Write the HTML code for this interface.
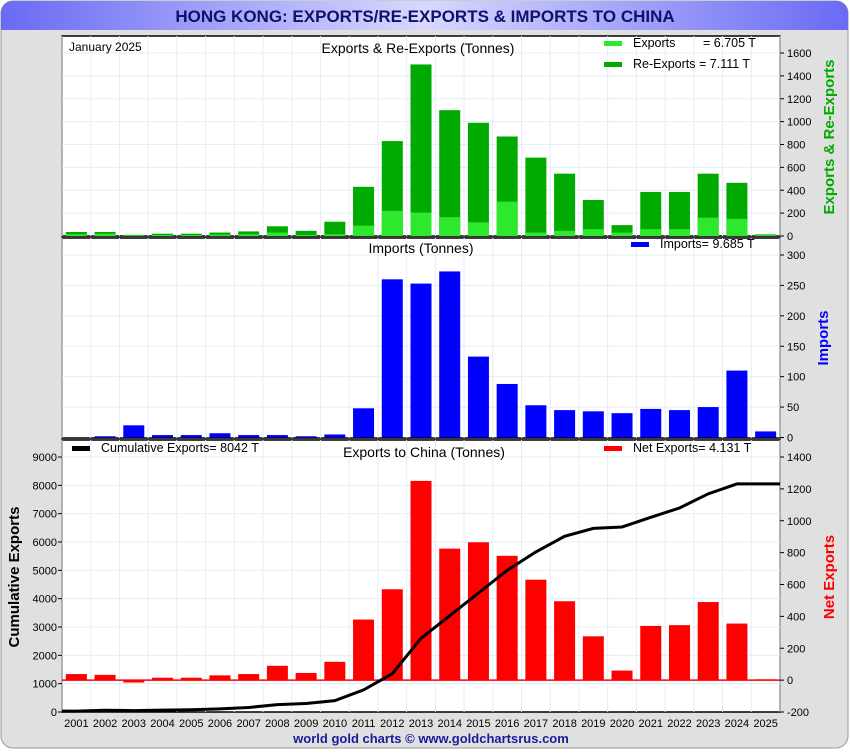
<!DOCTYPE html>
<html><head><meta charset="utf-8"><style>
body{margin:0;width:850px;height:750px;overflow:hidden;background:#fff;font-family:"Liberation Sans",sans-serif}
</style></head><body>
<svg id="c" width="850" height="750" xmlns="http://www.w3.org/2000/svg" font-family="Liberation Sans, sans-serif">
<defs><linearGradient id="hg" x1="0" x2="1"><stop offset="0" stop-color="#6a6af5"/><stop offset="0.5" stop-color="#d8d8ff"/><stop offset="1" stop-color="#6a6af5"/></linearGradient></defs>
<rect x="1" y="1" width="847" height="747" rx="12" fill="#e0e0e0" stroke="#999"/>
<path d="M1,30 V13 A12,12 0 0 1 13,1 H836 A12,12 0 0 1 848,13 V30 Z" fill="url(#hg)"/>
<text x="425" y="22" text-anchor="middle" font-size="17" font-weight="bold" fill="#10106a">HONG KONG: EXPORTS/RE-EXPORTS &amp; IMPORTS TO CHINA</text>
<g id="g"></g>
<text x="431" y="743" text-anchor="middle" font-size="13" font-weight="bold" fill="#1a1a9a">world gold charts © www.goldchartsrus.com</text>
</svg>
<script>
const years=['2001','2002','2003','2004','2005','2006','2007','2008','2009','2010','2011','2012','2013','2014','2015','2016','2017','2018','2019','2020','2021','2022','2023','2024','2025'];
const totalExports=[35,35,10,20,20,30,40,85,45,125,430,830,1500,1100,990,870,685,545,315,95,385,385,545,465,14];
const exportsOnly=[15,20,5,8,8,12,15,30,10,15,90,220,205,165,120,300,30,45,60,30,60,60,160,150,7];
const imports=[0,2,20,4,4,7,4,4,2,5,48,260,253,273,133,88,53,45,43,40,47,45,50,110,10];
const netExports=[38,33,-15,15,15,30,38,90,45,115,380,570,1250,825,865,780,630,495,275,60,340,345,490,355,5];
const cumulative=[30,60,50,65,80,110,160,260,300,400,780,1350,2600,3400,4200,5000,5650,6200,6480,6530,6870,7200,7700,8050,8050];
const topTicks=[0,200,400,600,800,1000,1200,1400,1600];
const midTicks=[0,50,100,150,200,250,300];
const leftTicks=[0,1000,2000,3000,4000,5000,6000,7000,8000,9000];
const rightTicks=[-200,0,200,400,600,800,1000,1200,1400];

const NS='http://www.w3.org/2000/svg';
const G=document.getElementById('g');
const L=62,R=780,slot=(R-L)/years.length,bw=21;
const xc=i=>L+slot*(i+0.5);
function mk(t,a,p){const e=document.createElementNS(NS,t);for(const k in a)e.setAttribute(k,a[k]);(p||G).appendChild(e);return e;}
const yTop=v=>236-v*(236-53)/1600;
const yMid=v=>437.5-v*(437.5-255)/300;
const yLeft=v=>712-v*(712-457)/9000;
const yRight=v=>712-(v+200)*(712-457)/1600;

const panels=[[36,236],[238,438],[440,712]];
panels.forEach((p,k)=>{
  const r=mk('rect',{x:L,y:p[0],width:R-L,height:p[1]-p[0],fill:'#fff',stroke:'#000','stroke-width':1.5});
  
  
  for(let i=0;i<=years.length;i++){mk('line',{x1:L+slot*i,x2:L+slot*i,y1:p[0],y2:p[1],stroke:'#e3eef7'});}
});
topTicks.forEach(v=>{const y=yTop(v);if(v>0)mk('line',{x1:L,x2:R,y1:y,y2:y,stroke:'#e3eef7'});mk('line',{x1:R,x2:R+4,y1:y,y2:y,stroke:'#000'});const t=mk('text',{x:R+7,y:y+4,'font-size':11});t.textContent=v;});
midTicks.forEach(v=>{const y=yMid(v);if(v>0)mk('line',{x1:L,x2:R,y1:y,y2:y,stroke:'#e3eef7'});mk('line',{x1:R,x2:R+4,y1:y,y2:y,stroke:'#000'});const t=mk('text',{x:R+7,y:y+4,'font-size':11});t.textContent=v;});
leftTicks.forEach(v=>{const y=yLeft(v);if(v>0)mk('line',{x1:L,x2:R,y1:y,y2:y,stroke:'#e3eef7'});mk('line',{x1:L-4,x2:L,y1:y,y2:y,stroke:'#000'});const t=mk('text',{x:L-5,y:y+4,'font-size':11,'text-anchor':'end'});t.textContent=v;});
rightTicks.forEach(v=>{const y=yRight(v);mk('line',{x1:R,x2:R+4,y1:y,y2:y,stroke:'#000'});const t=mk('text',{x:R+7,y:y+4,'font-size':11});t.textContent=v;});

years.forEach((yr,i)=>{
  const x=xc(i)-bw/2;
  let b=mk('rect',{x:x,y:yTop(totalExports[i]),width:bw,height:236-yTop(totalExports[i]),fill:'#00aa00'});
  
  
  b=mk('rect',{x:x,y:yTop(exportsOnly[i]),width:bw,height:236-yTop(exportsOnly[i]),fill:'#2ee82e'});
  
  
  b=mk('rect',{x:x,y:yMid(imports[i]),width:bw,height:437.5-yMid(imports[i]),fill:'#0000ff'});
  
  
  const y0=yRight(0),y1=yRight(netExports[i]);
  b=mk('rect',{x:x,y:Math.min(y0,y1),width:bw,height:Math.abs(y1-y0),fill:'#ff0000'});
  
  
  const t=mk('text',{x:xc(i),y:727,'font-size':11,'text-anchor':'middle'});t.textContent=yr;
  
  
});
mk('line',{x1:L,x2:R,y1:yRight(0),y2:yRight(0),stroke:'#ff0000','stroke-width':1.5});
let pts=cumulative.map((v,i)=>xc(i)+','+yLeft(v));
pts.unshift(L+','+yLeft(cumulative[0]));pts.push(R+','+yLeft(cumulative[cumulative.length-1]));
const pl=mk('polyline',{points:pts.join(' '),fill:'none',stroke:'#000','stroke-width':3});



function txt(s,a,name){const t=mk('text',a);t.textContent=s;return t;}
txt('January 2025',{x:69,y:51,'font-size':12},'date-label');
txt('Exports & Re-Exports (Tonnes)',{x:418,y:53,'font-size':14,'text-anchor':'middle'},'top-panel-title');
txt('Imports (Tonnes)',{x:421,y:253,'font-size':14,'text-anchor':'middle'},'mid-panel-title');
txt('Exports to China (Tonnes)',{x:424,y:457,'font-size':14,'text-anchor':'middle'},'bottom-panel-title');
function leg(x,y,c,s,name){const r=mk('rect',{x:x,y:y-5,width:18,height:5,fill:c});txt(s,{x:x+29,y:y+1,'font-size':12.5},name);}
leg(604,46,'#2ee82e','Exports','legend-exports');
txt('= 6.705 T',{x:703,y:47,'font-size':12.5},'legend-exports-value');
leg(604,67,'#00aa00','Re-Exports = 7.111 T','legend-reexports');
leg(631,247,'#0000ff','Imports= 9.685 T','legend-imports');
leg(604,451,'#ff0000','Net Exports= 4.131 T','legend-net-exports');
leg(72,451,'#000','Cumulative Exports= 8042 T','legend-cumulative');
txt('Exports & Re-Exports',{x:0,y:0,'font-size':15,'font-weight':'bold',fill:'#00aa00','text-anchor':'middle',transform:'translate(834,137) rotate(-90)'},'top-y-axis-title');
txt('Imports',{x:0,y:0,'font-size':15,'font-weight':'bold',fill:'#0000ff','text-anchor':'middle',transform:'translate(828,338) rotate(-90)'},'mid-y-axis-title');
txt('Net Exports',{x:0,y:0,'font-size':15,'font-weight':'bold',fill:'#ff0000','text-anchor':'middle',transform:'translate(834,577) rotate(-90)'},'right-y-axis-title');
txt('Cumulative Exports',{x:0,y:0,'font-size':15,'font-weight':'bold',fill:'#000','text-anchor':'middle',transform:'translate(19,577) rotate(-90)'},'left-y-axis-title');
</script>
</body></html>
